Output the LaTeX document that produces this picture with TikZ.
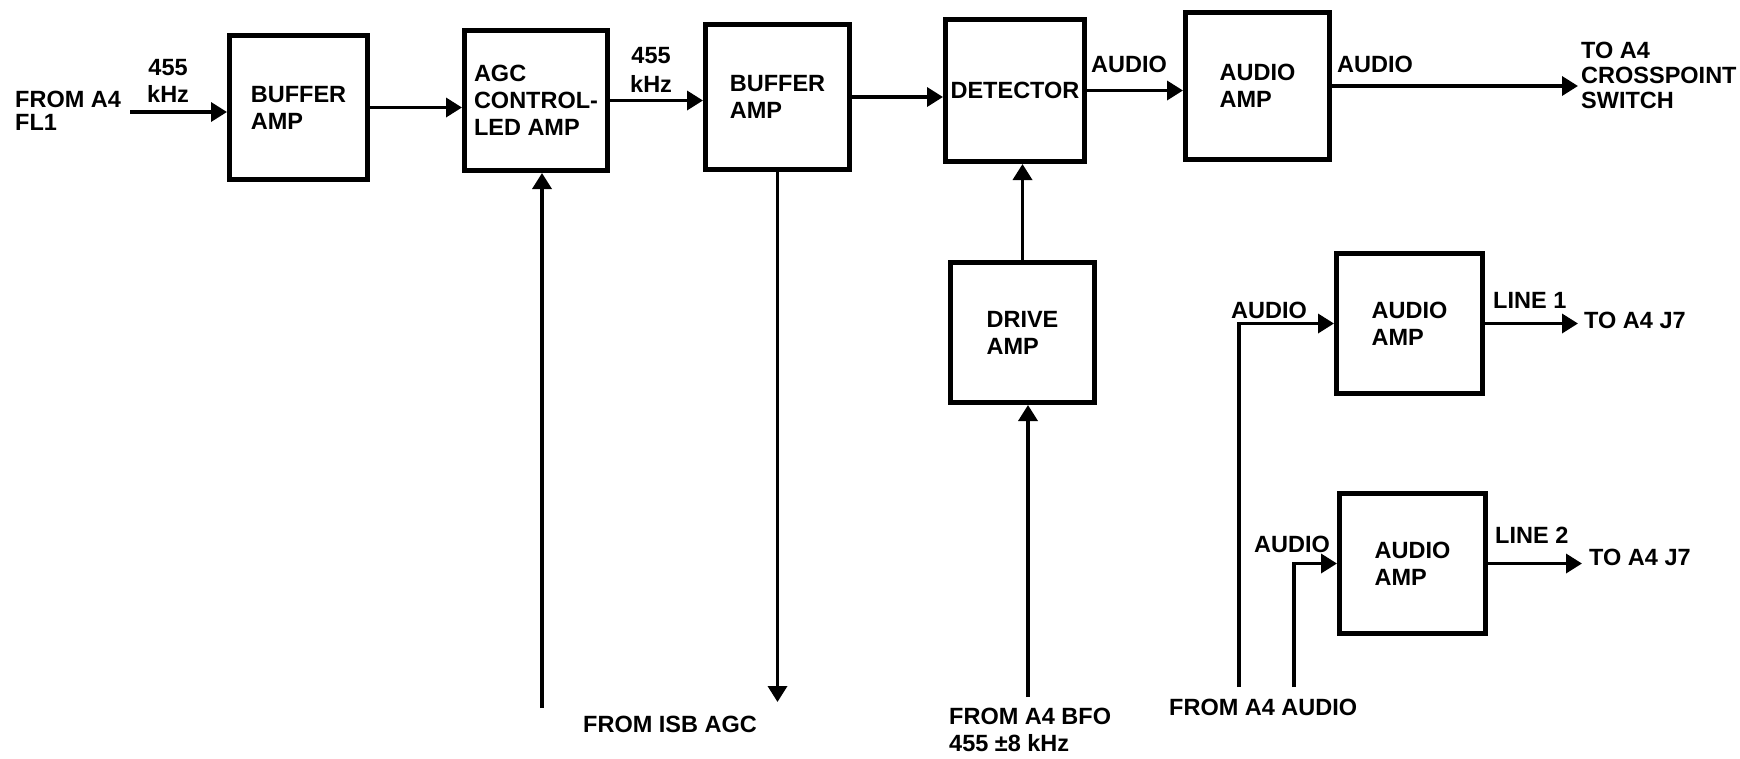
\documentclass[tikz,border=0pt]{standalone}
\usepackage{fontspec}
\setmainfont{Liberation Sans}
\usetikzlibrary{arrows.meta}
\begin{document}
\begin{tikzpicture}[x=1pt,y=-1pt,
  every node/.style={font=\fontsize{23.5}{27}\selectfont\bfseries},
  blk/.style={draw, line width=5pt, rectangle, align=left, inner sep=0pt},
  lbl/.style={inner sep=0pt, align=left, anchor=base west},
  conn/.style={line width=3.5pt},
  arr/.style={conn, -{Triangle[length=16pt,width=19pt]}}]
\path[use as bounding box, fill=white] (0,0) rectangle (1740,758);

% blocks
\node[blk, minimum width=138pt, minimum height=144pt] (b1) at (298.5,107.5) {BUFFER\\AMP};
\node[blk, minimum width=143pt, minimum height=140pt] (b2) at (536,100.5) {AGC\\CONTROL-\\LED AMP};
\node[blk, minimum width=144pt, minimum height=145pt] (b3) at (777.5,97) {BUFFER\\AMP};
\node[blk, minimum width=139pt, minimum height=142pt] (b4) at (1015,90.5) {DETECTOR};
\node[blk, minimum width=144pt, minimum height=147pt] (b5) at (1257.5,86) {AUDIO\\AMP};
\node[blk, minimum width=144pt, minimum height=140pt] (b6) at (1022.5,332.5) {DRIVE\\AMP};
\node[blk, minimum width=146pt, minimum height=140pt] (b7) at (1409.5,323.5) {AUDIO\\AMP};
\node[blk, minimum width=146pt, minimum height=140pt] (b8) at (1412.5,563.5) {AUDIO\\AMP};

% labels (anchor at baseline of last line)
\node[lbl] (lfrom) at (15,130) {FROM A4\\[-4pt]FL1};
\node[lbl, align=center] (lf1) at (147,102) {455\\kHz};
\node[lbl, align=center] (lf2) at (630,92) {455\\[2pt]kHz};
\node[lbl] (laud1) at (1091,72) {AUDIO};
\node[lbl] (laud2) at (1337,72) {AUDIO};
\node[lbl] (lcross) at (1581,108) {TO A4\\[-2pt]CROSSPOINT\\[-2pt]SWITCH};
\node[lbl] (lisb) at (583,732) {FROM ISB AGC};
\node[lbl] (lbfo) at (949,751) {FROM A4 BFO\\455 ±8 kHz};
\node[lbl] (lfa4) at (1169,715) {FROM A4 AUDIO};
\node[lbl] (laud3) at (1231,318) {AUDIO};
\node[lbl] (laud4) at (1254,552) {AUDIO};
\node[lbl] (lline1) at (1493,308) {LINE 1};
\node[lbl] (lj71) at (1584,328) {TO A4 J7};
\node[lbl] (lline2) at (1495,543) {LINE 2};
\node[lbl] (lj72) at (1589,565) {TO A4 J7};

% free ends
\coordinate (in1) at (130,112);
\coordinate (out1) at (1578,83);
\coordinate (agcsrc) at (542,708);
\coordinate (isbend) at (780,702);
\coordinate (bfo) at (1028,697);
\coordinate (a1) at (1239,687);
\coordinate (a2) at (1294,687);
\coordinate (j71) at (1578,323);
\coordinate (j72) at (1582,563);

% connectors
\draw[arr] (in1) -- (in1 -| b1.west);
\draw[arr] (b1.east) -- (b1.east -| b2.west);
\draw[arr] (b2.east) -- (b2.east -| b3.west);
\draw[arr] (b3.east) -- (b3.east -| b4.west);
\draw[arr] (b4.east) -- (b4.east -| b5.west);
\draw[arr] (b5.east) -- (b5.east -| out1);
\draw[arr] (agcsrc) -- (agcsrc |- b2.south);
\draw[arr] (b3.south) -- (b3.south |- isbend);
\draw[arr] (b6.north) -- (b6.north |- b4.south);
\draw[arr] (bfo) -- (bfo |- b6.south);
\draw[arr] (a1) |- (b7.west);
\draw[arr] (a2) |- (b8.west);
\draw[arr] (b7.east) -- (b7.east -| j71);
\draw[arr] (b8.east) -- (b8.east -| j72);
\end{tikzpicture}
\end{document}
